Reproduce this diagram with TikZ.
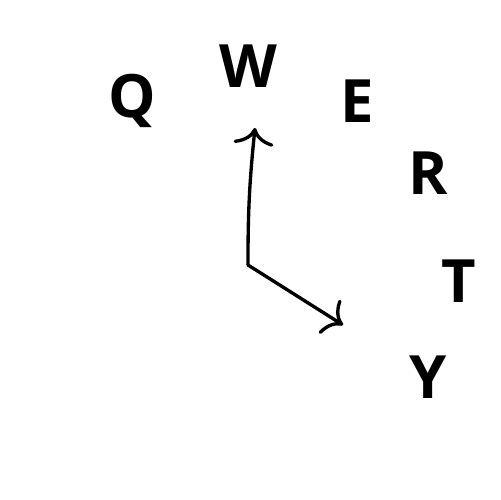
\documentclass[tikz,border=0pt]{standalone}
\usepackage{fontspec}
\setsansfont{Open Sans}
\usetikzlibrary{arrows.meta}

\begin{document}
\begin{tikzpicture}[
  x=0.02cm,y=-0.02cm,
  key/.style={anchor=base,inner sep=0pt,font=\sffamily\bfseries\fontsize{34}{40}\selectfont},
  vec/.style={-{To[length=0.34cm,width=0.8cm]},line width=1.9pt,line cap=round,line join=round}
]
\useasboundingbox (0,0) rectangle (500,500);
\node[key] (q) at (132,117) {Q};
\node[key] (w) at (248,88) {W};
\node[key] (e) at (357,122) {E};
\node[key] (r) at (428,194) {R};
\node[key] (t) at (459,302) {T};
\node[key] (y) at (428,398) {Y};
\coordinate (o) at (248,265);
\coordinate (up) at (255,128);
\coordinate (dr) at (343,325);
\draw[vec] (o) to[bend left=3] (up);
\draw[vec] (o) -- (dr);
\end{tikzpicture}
\end{document}
